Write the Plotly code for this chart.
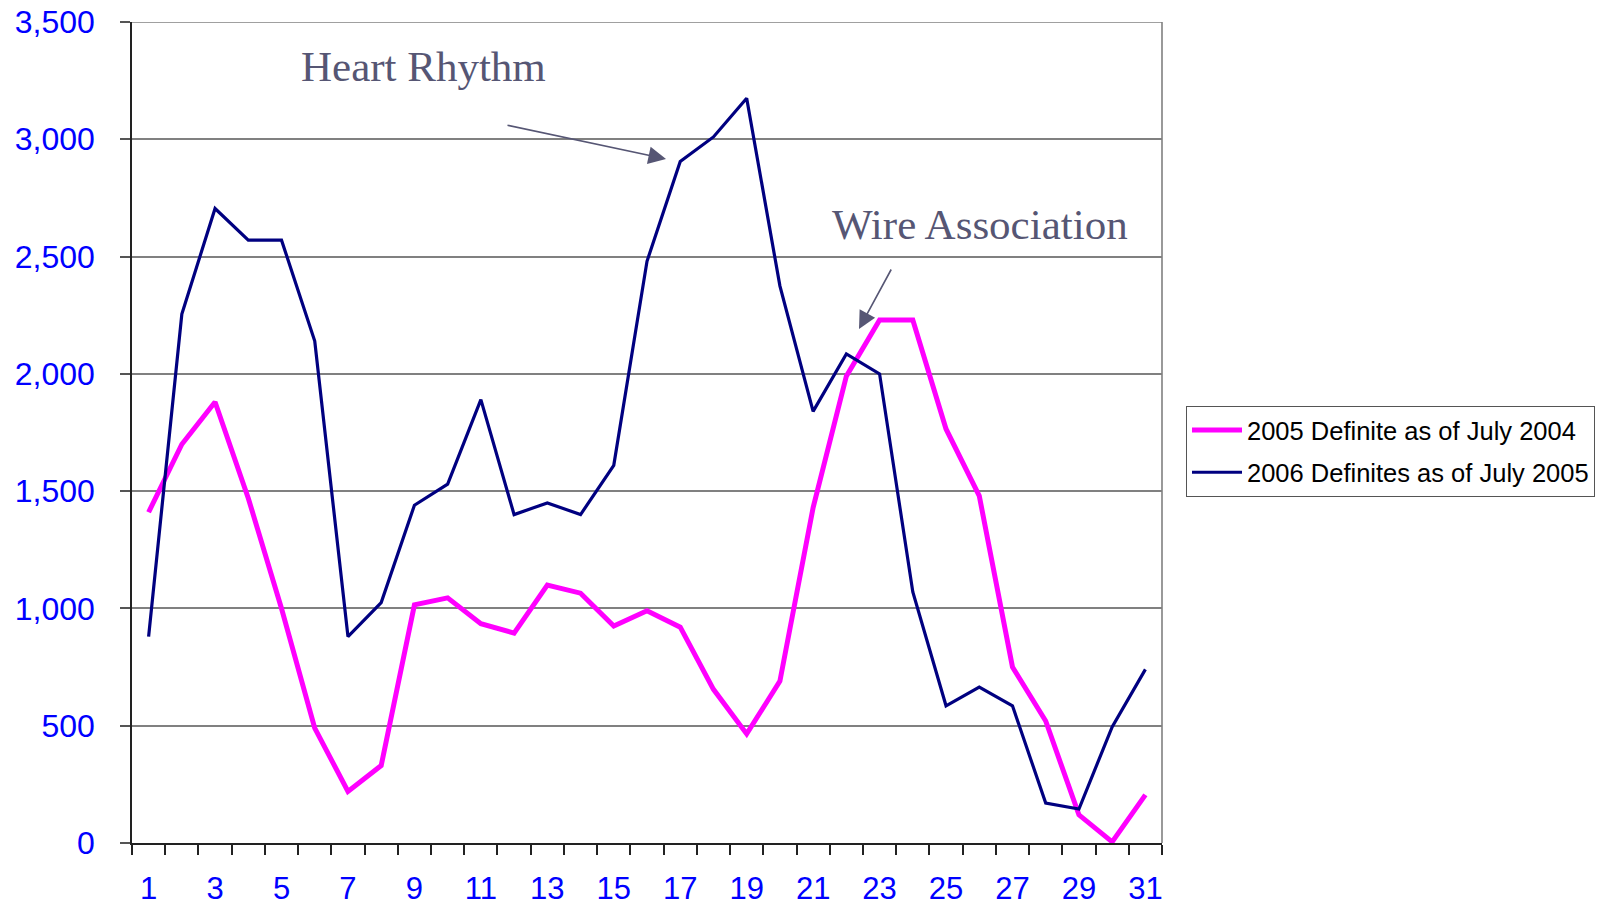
import plotly.graph_objects as go

days = list(range(1, 32))
series_2005 = [1410, 1700, 1880, 1470, 1000, 490, 220, 330, 1015, 1045,
               935, 895, 1100, 1065, 925, 990, 920, 655, 465, 690,
               1430, 1990, 2230, 2230, 1765, 1480, 750, 520, 120, 5, 205]
series_2006 = [880, 2255, 2705, 2570, 2570, 2140, 880, 1025, 1440, 1530,
               1890, 1400, 1450, 1400, 1610, 2480, 2905, 3010, 3175, 2375,
               1840, 2085, 2000, 1070, 585, 665, 585, 170, 145, 495, 740]
name_2005 = "2005 Definite as of July 2004"
name_2006 = "2006 Definites as of July 2005"
x_labels = [str(d) for d in days if d % 2 == 1]
y_ticks = [0, 500, 1000, 1500, 2000, 2500, 3000, 3500]

W, H = 1604, 908
OFF = 8  # default page body margin in the browser
L, R, T, B = 132 - OFF, 1162 - OFF, 22 - OFF, 843 - OFF
pw, ph = R - L, B - T

def px(x):
    return (x - OFF - L) / pw

def py(y):
    return (B - (y - OFF)) / ph

fig = go.Figure()
fig.add_trace(go.Scatter(x=days, y=series_2005, mode="lines", name=name_2005,
                         legendgroup="a",
                         line=dict(color="#FF00FF", width=5)))
fig.add_trace(go.Scatter(x=days, y=series_2006, mode="lines", name=name_2006,
                         legendgroup="b",
                         line=dict(color="#000080", width=3.2)))

ann_color = "#565674"
serif = "Liberation Serif, Times New Roman"
fig.update_layout(
    width=W, height=H,
    margin=dict(l=L, r=W - R, t=T, b=H - B, pad=0, autoexpand=False),
    paper_bgcolor="white", plot_bgcolor="white",
    font=dict(family="Liberation Sans, Arial", color="black"),
    legend=dict(x=px(1186), y=py(406), xanchor="left", yanchor="top",
                bordercolor="#555555", borderwidth=1, bgcolor="white",
                font=dict(size=25.5, color="black", family="Liberation Sans, Arial"),
                traceorder="grouped", tracegroupgap=6, itemwidth=50),
    showlegend=True,
    xaxis=dict(range=[0.5, 31.5], tickmode="array", automargin=False,
               tickvals=[d for d in days if d % 2 == 1], ticktext=x_labels,
               ticks="", showgrid=False, zeroline=False, ticklabeloverflow="allow",
               showline=True, linecolor="#222222", linewidth=1.5,
               tickfont=dict(size=31, color="#0000FF", family="Liberation Sans, Arial"),
               ticklabelstandoff=17,
               minor=dict(tick0=0.5, dtick=1, ticks="outside", ticklen=10,
                          tickcolor="#222222", tickwidth=1.5, showgrid=False)),
    yaxis=dict(range=[0, 3500], tickmode="array", tickvals=y_ticks, automargin=False,
               tickformat=",", ticks="outside", ticklen=10, tickcolor="#555555",
               tickwidth=1.5, showgrid=True, gridcolor="#808080", gridwidth=1.6,
               ticklabeloverflow="allow",
               zeroline=False, showline=True, linecolor="#222222", linewidth=1.5,
               tickfont=dict(size=32, color="#0000FF", family="Liberation Sans, Arial"),
               ticklabelstandoff=19),
    shapes=[dict(type="line", xref="paper", yref="paper", x0=1, x1=1, y0=0, y1=1,
                 line=dict(color="#808080", width=1.6)),
            dict(type="line", xref="paper", yref="y", x0=0, x1=1, y0=3500, y1=3500,
                 line=dict(color="#808080", width=1.6), layer="below")],
    annotations=[
        dict(text="Heart Rhythm", xref="paper", yref="paper", x=px(423), y=py(66),
             xanchor="center", yanchor="middle",
             showarrow=False, font=dict(family=serif, size=43, color=ann_color)),
        dict(text="Wire Association", xref="paper", yref="paper", x=px(980), y=py(224),
             xanchor="center", yanchor="middle",
             showarrow=False, font=dict(family=serif, size=43, color=ann_color)),
        dict(text="", xref="paper", yref="paper", x=px(666), y=py(159),
             ax=506 - 666, ay=125 - 159, showarrow=True, arrowhead=2,
             arrowsize=2.2, arrowwidth=1.6, arrowcolor=ann_color),
        dict(text="", xref="paper", yref="paper", x=px(859), y=py(329),
             ax=892 - 859, ay=268 - 329, showarrow=True, arrowhead=2,
             arrowsize=2.2, arrowwidth=1.6, arrowcolor=ann_color),
    ],
)

fig.write_html("out.html")
